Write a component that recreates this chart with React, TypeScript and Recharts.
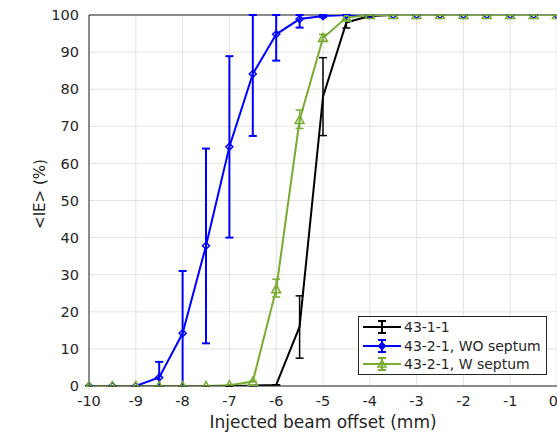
import { LineChart, Line, XAxis, YAxis, CartesianGrid, ErrorBar, ReferenceLine } from 'recharts';

const offsets = [-10, -9.5, -9, -8.5, -8, -7.5, -7, -6.5, -6, -5.5, -5, -4.5, -4, -3.5, -3, -2.5, -2, -1.5, -1, -0.5, 0];

// 43-1-1
const ieA = [0, 0, 0, 0, 0, 0, 0, 0.1, 0.3, 16, 78, 98, 99.7, 100, 100, 100, 100, 100, 100, 100, 100];
const ieAMinus = [0, 0, 0, 0, 0, 0, 0, 0, 0, 8.5, 10.5, 1.5, 0.3, 0, 0, 0, 0, 0, 0, 0, 0];
const ieAPlus = [0, 0, 0, 0, 0, 0, 0, 0, 0, 8.3, 10.5, 2, 0.3, 0, 0, 0, 0, 0, 0, 0, 0];

// 43-2-1, WO septum
const ieB = [0, 0, 0, 2.3, 14.2, 37.8, 64.5, 84.1, 94.8, 98.9, 99.7, 100, 100, 100, 100, 100, 100, 100, 100, 100, 100];
const ieBMinus = [0, 0, 0, 2.3, 14.2, 26.3, 24.5, 16.7, 7.1, 2.3, 0.3, 0, 0, 0, 0, 0, 0, 0, 0, 0, 0];
const ieBPlus = [0, 0, 0, 4.2, 16.8, 26.2, 24.4, 15.9, 5.2, 1.1, 0.3, 0, 0, 0, 0, 0, 0, 0, 0, 0, 0];

// 43-2-1, W septum
const ieC = [0, 0, 0, 0, 0, 0, 0.2, 1.2, 26.1, 71.7, 93.8, 99.3, 100, 100, 100, 100, 100, 100, 100, 100, 100];
const ieCMinus = [0, 0, 0, 0, 0, 0, 0, 0, 2.1, 2.3, 0.9, 0.5, 0, 0, 0, 0, 0, 0, 0, 0, 0];
const ieCPlus = [0, 0, 0, 0, 0, 0, 0, 0, 2.7, 2.7, 1, 0.5, 0, 0, 0, 0, 0, 0, 0, 0, 0];

const xTicks = [-10, -9, -8, -7, -6, -5, -4, -3, -2, -1, 0];
const yTicks = [0, 10, 20, 30, 40, 50, 60, 70, 80, 90, 100];

const seriesNames = ['43-1-1', '43-2-1, WO septum', '43-2-1, W septum'];
const seriesColors = ['#000000', '#0000ff', '#77ac30'];

const data = offsets.map((x, i) => ({
  x,
  a: ieA[i],
  aErr: [ieAMinus[i], ieAPlus[i]],
  b: ieB[i],
  bErr: [ieBMinus[i], ieBPlus[i]],
  c: ieC[i],
  cErr: [ieCMinus[i], ieCPlus[i]],
}));

const FONT = '"DejaVu Sans", sans-serif';
const AX = '#262626';

const diamond = (props: any) => {
  const { cx, cy, key } = props;
  if (cx == null || cy == null) return <g key={key} />;
  const s = 3.5;
  return (
    <path key={key} d={`M${cx},${cy - s}L${cx + s},${cy}L${cx},${cy + s}L${cx - s},${cy}Z`}
      fill="none" stroke="#0000ff" strokeWidth={1.5} />
  );
};

const triangle = (props: any) => {
  const { cx, cy, key } = props;
  if (cx == null || cy == null) return <g key={key} />;
  const s = 4.5;
  return (
    <path key={key} d={`M${cx},${cy - s}L${cx + s},${cy + s * 0.8}L${cx - s},${cy + s * 0.8}Z`}
      fill="none" stroke="#77ac30" strokeWidth={1.5} />
  );
};

function LegendBox() {
  return (
    <div style={{
      position: 'absolute', left: 358, top: 316, width: 187, height: 57,
      border: `1px solid ${AX}`, background: '#fff', fontFamily: FONT, fontSize: 14, color: AX,
    }}>
      {seriesNames.map((name, i) => (
        <div key={name} style={{ position: 'absolute', left: 3, top: 1 + i * 18.5, height: 18, display: 'flex', alignItems: 'center' }}>
          <svg width={40} height={18} style={{ display: 'block' }}>
            <line x1={1} y1={9} x2={39} y2={9} stroke={seriesColors[i]} strokeWidth={2} />
            <line x1={20} y1={3} x2={20} y2={15} stroke={seriesColors[i]} strokeWidth={2} />
            <line x1={16} y1={3} x2={24} y2={3} stroke={seriesColors[i]} strokeWidth={2} />
            <line x1={16} y1={15} x2={24} y2={15} stroke={seriesColors[i]} strokeWidth={2} />
            {i === 1 && <path d="M20,5.5L23.5,9L20,12.5L16.5,9Z" fill="#0000ff" stroke="#0000ff" strokeWidth={1.5} />}
            {i === 2 && <path d="M20,5L24,12L16,12Z" fill="none" stroke="#77ac30" strokeWidth={1.5} />}
          </svg>
          <span style={{ marginLeft: 2, whiteSpace: 'nowrap' }}>{name}</span>
        </div>
      ))}
    </div>
  );
}

export default function App() {
  return (
    <div style={{ position: 'absolute', left: 0, top: 0, width: 557, height: 433, background: '#fff', overflow: 'hidden' }}>
      <LineChart width={557} height={433} data={data} margin={{ top: 15, right: 0, left: 0, bottom: 0 }}>
        <CartesianGrid stroke="#e3e3e3" strokeWidth={1} />
        <XAxis
          dataKey="x" type="number" domain={[-10, 0]} ticks={xTicks} height={47}
          axisLine={{ stroke: AX }} tickLine={false} tickSize={0} tickMargin={10}
          tick={{ fill: AX, fontSize: 14.5, fontFamily: FONT }}
          label={{ value: 'Injected beam offset (mm)', position: 'insideBottom', offset: 5, fill: AX, fontSize: 17, fontFamily: FONT }}
        />
        <YAxis
          type="number" domain={[0, 100]} ticks={yTicks} width={89} allowDataOverflow
          axisLine={{ stroke: AX }} tickLine={false} tickSize={0} tickMargin={10}
          tick={{ fill: AX, fontSize: 14.5, fontFamily: FONT }}
          label={{
            content: () => (
              <text x={40} y={194} transform="rotate(-90 40 194)" textAnchor="middle" dominantBaseline="central"
                fill={AX} fontSize={15} fontFamily={FONT}>{'<IE> (%)'}</text>
            ),
          }}
        />
        <YAxis
          yAxisId="r" orientation="right" type="number" domain={[0, 100]} ticks={yTicks} width={0} mirror
          axisLine={false} tickLine={{ stroke: AX }} tickSize={5} tick={{ fill: 'transparent', fontSize: 1 }}
        />
        <ReferenceLine y={100} stroke={AX} strokeWidth={1} />
        <Line dataKey="a" stroke="#000000" strokeWidth={2} dot={false} isAnimationActive={false}>
          <ErrorBar dataKey="aErr" width={4} stroke="#000000" strokeWidth={1.5} direction="y" />
        </Line>
        <Line dataKey="b" stroke="#0000ff" strokeWidth={2} dot={diamond} isAnimationActive={false}>
          <ErrorBar dataKey="bErr" width={4} stroke="#0000ff" strokeWidth={2} direction="y" />
        </Line>
        <Line dataKey="c" stroke="#77ac30" strokeWidth={2} dot={triangle} isAnimationActive={false}>
          <ErrorBar dataKey="cErr" width={4} stroke="#77ac30" strokeWidth={1.5} direction="y" />
        </Line>
      </LineChart>
      <LegendBox />
    </div>
  );
}
